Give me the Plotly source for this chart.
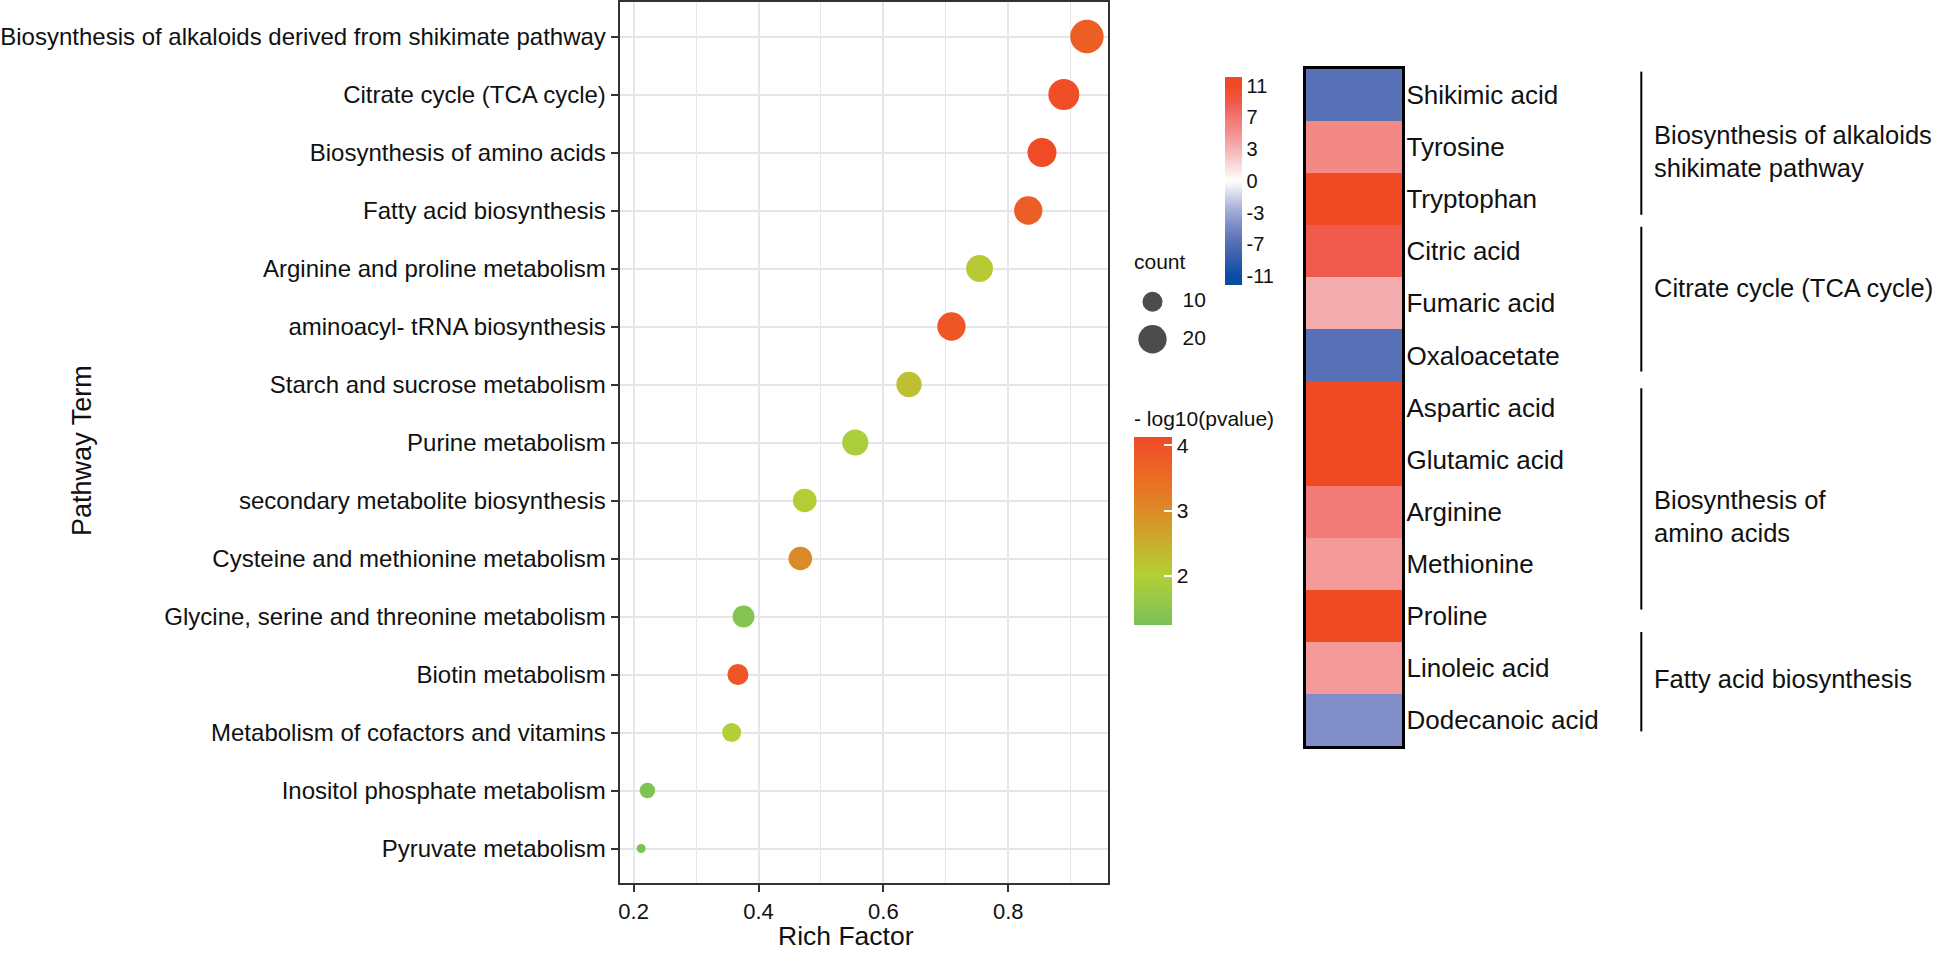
import numpy as np
import plotly.graph_objects as go

W, H = 1944, 954
FONT = "Liberation Sans, Arial, sans-serif"

# ---------------- data: enrichment bubble plot ----------------
pathways = [
    "Biosynthesis of alkaloids derived from shikimate pathway",
    "Citrate cycle (TCA cycle)",
    "Biosynthesis of amino acids",
    "Fatty acid biosynthesis",
    "Arginine and proline metabolism",
    "aminoacyl- tRNA biosynthesis",
    "Starch and sucrose metabolism",
    "Purine metabolism",
    "secondary metabolite biosynthesis",
    "Cysteine and methionine metabolism",
    "Glycine, serine and threonine metabolism",
    "Biotin metabolism",
    "Metabolism of cofactors and vitamins",
    "Inositol phosphate metabolism",
    "Pyruvate metabolism",
]
rich_factor = [0.926, 0.889, 0.854, 0.832, 0.754, 0.709, 0.641, 0.555,
               0.474, 0.467, 0.376, 0.367, 0.357, 0.222, 0.212]
counts = [28, 24, 21, 20, 18, 20, 16, 17, 14, 14, 12, 11, 9, 6, 2]
neglog10p = [3.75, 4.05, 4.1, 3.75, 2.1, 3.9, 2.25, 1.9, 2.05, 3.0,
             1.4, 3.9, 2.0, 1.35, 1.3]
x_ticks = [0.2, 0.4, 0.6, 0.8]
p_ticks = [2, 3, 4]
legend_counts = [10, 20]

# ---------------- data: metabolite heatmap ----------------
metabolites = ["Shikimic acid", "Tyrosine", "Tryptophan", "Citric acid",
               "Fumaric acid", "Oxaloacetate", "Aspartic acid", "Glutamic acid",
               "Arginine", "Methionine", "Proline", "Linoleic acid",
               "Dodecanoic acid"]
log2fc = [-7, 6, 11, 9, 4, -7, 11, 11, 7, 5, 11, 5, -5]
heat_tick_labels = ["11", "7", "3", "0", "-3", "-7", "-11"]

group_names = ["Biosynthesis of alkaloids<br>shikimate pathway",
               "Citrate cycle (TCA cycle)",
               "Biosynthesis of<br>amino acids",
               "Fatty acid biosynthesis"]

# ---------------- helpers ----------------
def px_x(p):
    return p / W

def px_y(p):
    return 1 - p / H

CMIN, CMAX = 1.24, 4.12
def pnorm(v):
    return (v - CMIN) / (CMAX - CMIN)

p_colorscale = [
    [0.0, "#79C158"],
    [pnorm(2.0), "#B2D035"],
    [pnorm(2.5), "#C9AE2C"],
    [pnorm(3.0), "#DC8A27"],
    [pnorm(3.5), "#EC6B24"],
    [1.0, "#EF4A27"],
]

ZMIN, ZMAX = -12, 12
def znorm(v):
    return (v - ZMIN) / (ZMAX - ZMIN)

heat_colorscale = [
    [0.0, "#0A4CA3"],
    [znorm(-11), "#0A4CA3"],
    [znorm(-7), "#5870B5"],
    [znorm(-5), "#7F8EC8"],
    [znorm(-3), "#AEB5DA"],
    [znorm(0), "#FFFFFF"],
    [znorm(3), "#F6C2C2"],
    [znorm(4), "#F4ADAE"],
    [znorm(5), "#F59A9A"],
    [znorm(6), "#F38985"],
    [znorm(7), "#F27B77"],
    [znorm(9), "#EF5A4D"],
    [znorm(11), "#EF4A23"],
    [1.0, "#EF4A23"],
]

SIZEREF = 0.05  # area mode: count 10 -> 20 px diameter

fig = go.Figure()

# bubble plot
fig.add_trace(go.Scatter(
    x=rich_factor, y=pathways, mode="markers",
    marker=dict(
        size=counts, sizemode="area", sizeref=SIZEREF,
        color=neglog10p, colorscale=p_colorscale, cmin=CMIN, cmax=CMAX,
        line=dict(width=0), opacity=1,
        colorbar=dict(
            x=px_x(1132.7), xanchor="left", xpad=0,
            y=px_y(531.5), yanchor="middle", ypad=0,
            len=188.4, lenmode="pixels", thickness=38,
            outlinewidth=0, tickvals=p_ticks,
            ticks="inside", ticklen=8, tickcolor="white", tickwidth=1.5,
            tickfont=dict(family=FONT, size=21, color="#111"),
        ),
    ),
    showlegend=False, hoverinfo="skip",
    xaxis="x", yaxis="y",
))

# heatmap
heat_tickvals = list(np.linspace(11, -11, len(heat_tick_labels)))
fig.add_trace(go.Heatmap(
    z=[[v] for v in log2fc], y=metabolites, x=[0],
    colorscale=heat_colorscale, zmin=ZMIN, zmax=ZMAX,
    xgap=0, ygap=0,
    colorbar=dict(
        x=px_x(1224.3), xanchor="left", xpad=0,
        y=px_y(180.9), yanchor="middle", ypad=0,
        len=208.3, lenmode="pixels", thickness=17,
        outlinewidth=0, tickvals=heat_tickvals, ticktext=heat_tick_labels,
        ticks="", tickfont=dict(family=FONT, size=20, color="#111"),
    ),
    xaxis="x2", yaxis="y2", hoverinfo="skip",
))

# count size legend
fig.add_trace(go.Scatter(
    x=[0] * len(legend_counts), y=list(range(len(legend_counts))),
    mode="markers",
    marker=dict(size=legend_counts, sizemode="area", sizeref=SIZEREF,
                color="black", line=dict(width=0)),
    xaxis="x3", yaxis="y3", showlegend=False, hoverinfo="skip",
))
fig.add_trace(go.Scatter(
    x=[30] * len(legend_counts), y=list(range(len(legend_counts))),
    mode="text", text=[str(c) for c in legend_counts],
    textposition="middle right",
    textfont=dict(family=FONT, size=21, color="#111"),
    xaxis="x3", yaxis="y3", showlegend=False, hoverinfo="skip",
))

n = len(pathways)
grid_col = "#E4E6E9"
fig.update_layout(
    width=W, height=H, margin=dict(l=0, r=0, t=0, b=0),
    paper_bgcolor="white", plot_bgcolor="white",
    font=dict(family=FONT, color="#111"),
    xaxis=dict(
        domain=[px_x(618.3), px_x(1107.3)], range=[0.1776, 0.960],
        tickvals=x_ticks, ticks="outside", ticklen=7, tickwidth=2,
        tickcolor="#333", tickfont=dict(family=FONT, size=22, color="#111"),
        showgrid=True, gridcolor=grid_col, gridwidth=2,
        minor=dict(dtick=0.1, tick0=0.1, showgrid=True, gridcolor=grid_col,
                   gridwidth=1.3, ticks=""),
        showline=True, linecolor="#333", linewidth=2, mirror=True,
        zeroline=False, anchor="y",
    ),
    yaxis=dict(
        domain=[px_y(883.3), px_y(1.7)],
        type="category", categoryorder="array", categoryarray=pathways,
        range=[n - 1 + 0.6, -0.6],
        ticks="outside", ticklen=7, tickwidth=2, tickcolor="#333",
        tickfont=dict(family=FONT, size=24, color="#111"),
        showgrid=True, gridcolor=grid_col, gridwidth=2,
        showline=True, linecolor="#333", linewidth=2, mirror=True,
        zeroline=False, anchor="x",
    ),
    xaxis2=dict(
        domain=[px_x(1305), px_x(1401.7)], range=[-0.5, 0.5],
        showticklabels=False, ticks="", showgrid=False, zeroline=False,
        showline=True, linecolor="black", linewidth=3, mirror=True,
        anchor="y2",
    ),
    yaxis2=dict(
        domain=[px_y(746), px_y(69)],
        type="category", categoryorder="array", categoryarray=metabolites,
        autorange="reversed", side="right", ticks="",
        tickfont=dict(family=FONT, size=26, color="#111"),
        ticklabelstandoff=-4,
        showgrid=False, zeroline=False,
        showline=True, linecolor="black", linewidth=3, mirror=True,
        anchor="x2",
    ),
    xaxis3=dict(domain=[px_x(1130), px_x(1230)], range=[-21.7, 78.3],
                visible=False, anchor="y3"),
    yaxis3=dict(domain=[px_y(358), px_y(283)], range=[1.5, -0.5],
                visible=False, anchor="x3"),
)

annotations = [
    dict(text="Rich Factor", x=px_x(845), y=px_y(953), xref="paper",
         yref="paper", showarrow=False, xanchor="center", yanchor="bottom",
         font=dict(family=FONT, size=26.5, color="#111")),
    dict(text="Pathway Term", x=px_x(80), y=px_y(450), xref="paper",
         yref="paper", showarrow=False, textangle=-90, xanchor="center",
         yanchor="middle", font=dict(family=FONT, size=27, color="#111")),
    dict(text="- log10(pvalue)", x=px_x(1131), y=px_y(418), xref="paper",
         yref="paper", showarrow=False, xanchor="left", yanchor="middle",
         font=dict(family=FONT, size=21, color="#111")),
    dict(text="count", x=px_x(1131), y=px_y(261.7), xref="paper",
         yref="paper", showarrow=False, xanchor="left", yanchor="middle",
         font=dict(family=FONT, size=21, color="#111")),
]

# group brackets (row-index coordinates on the heatmap axis)
group_spans = [(-0.45, 2.30), (2.53, 5.31), (5.63, 9.88), (10.31, 12.22)]
group_text_rows = [1.08, 3.70, 8.09, 11.21]
shapes = []
for name, (r0, r1), rt in zip(group_names, group_spans, group_text_rows):
    shapes.append(dict(type="line", xref="paper", yref="y2",
                       x0=px_x(1641), x1=px_x(1641), y0=r0, y1=r1,
                       line=dict(color="black", width=2)))
    annotations.append(dict(text=name, x=px_x(1652), y=rt, xref="paper",
                            yref="y2", showarrow=False, xanchor="left",
                            yanchor="middle", align="left",
                            font=dict(family=FONT, size=25.5, color="#111")))

fig.update_layout(annotations=annotations, shapes=shapes)
# remove the default page margin so the figure fills the window exactly
fig.write_html("out.html",
               config={"displayModeBar": False},
               post_script="document.body.style.margin='0';"
                           "document.body.style.overflow='hidden';")
